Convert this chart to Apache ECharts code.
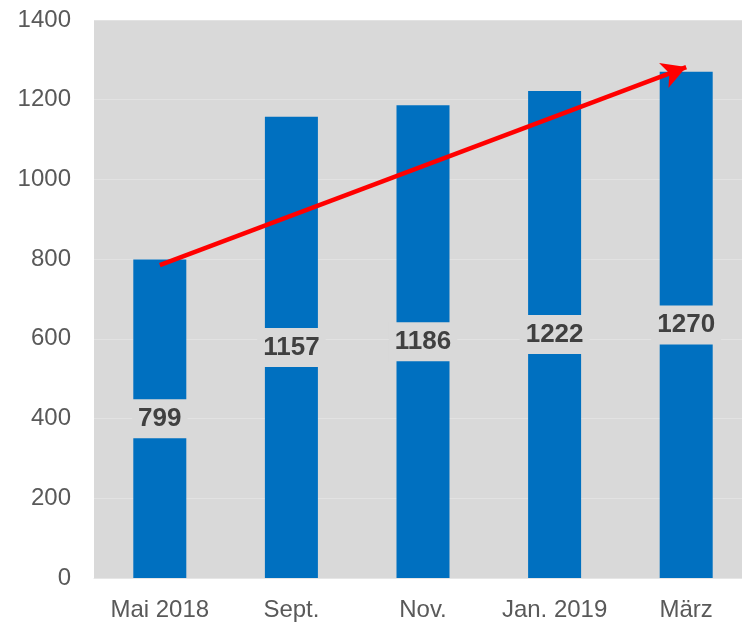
<!DOCTYPE html>
<html>
<head>
<meta charset="utf-8">
<script src="https://cdn.jsdelivr.net/npm/echarts@6/dist/echarts.min.js"></script>
<style>
html,body{margin:0;padding:0;background:#fff;overflow:hidden;width:742px;height:623px;}
#c{width:752px;height:623px;}
</style>
</head>
<body>
<div id="c"></div>
<script>
const categories = ['Mai 2018', 'Sept.', 'Nov.', 'Jan. 2019', 'März'];
const values = [799, 1157, 1186, 1222, 1270];
const yTicks = [0, 200, 400, 600, 800, 1000, 1200, 1400];
const trendStart = [0, 785];
const trendEnd = [4, 1282];

const chart = echarts.init(document.getElementById('c'), null, {renderer: 'canvas'});
chart.setOption({
  animation: false,
  grid: {
    left: 94, top: 20, right: 0, height: 558,
    show: true, backgroundColor: '#d9d9d9', borderWidth: 0
  },
  xAxis: {
    type: 'category',
    data: categories,
    axisLine: {show: true, lineStyle: {color: '#e6e6e6', width: 1}},
    axisTick: {show: false},
    axisLabel: {
      interval: 0, hideOverlap: false,
      color: '#595959', fontSize: 24, fontFamily: 'Liberation Sans, Arial, sans-serif', margin: 20
    }
  },
  yAxis: {
    type: 'value',
    min: yTicks[0], max: yTicks[yTicks.length - 1], interval: 200,
    axisLine: {show: false},
    axisTick: {show: false},
    splitLine: {show: true, lineStyle: {color: '#e2e2e2', width: 1}},
    axisLabel: {
      color: '#595959', fontSize: 24, fontFamily: 'Liberation Sans, Arial, sans-serif', margin: 23,
      formatter: function (v) { return String(v); }
    }
  },
  series: [{
    type: 'bar',
    data: values,
    barWidth: 53,
    itemStyle: {color: '#0070c0'},
    label: {
      show: true,
      position: 'inside',
      color: '#404040',
      fontSize: 26,
      fontWeight: 'bold',
      fontFamily: 'Liberation Sans, Arial, sans-serif',
      backgroundColor: '#d9d9d9',
      lineHeight: 26,
      padding: [7, 6, 6, 6]
    },
    markLine: {
      silent: true,
      symbol: ['none', 'arrow'],
      symbolSize: [20, 24],
      label: {show: false},
      lineStyle: {color: '#ff0000', width: 4.5, type: 'solid'},
      data: [[{coord: trendStart}, {coord: trendEnd}]]
    }
  }]
});
</script>
</body>
</html>
